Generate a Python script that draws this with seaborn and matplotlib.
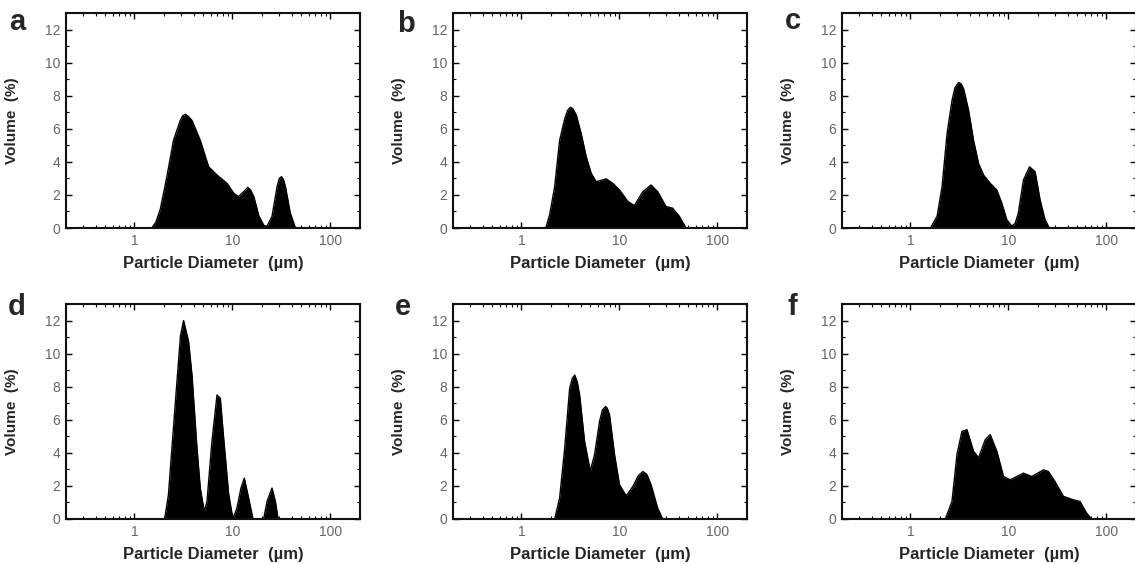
import matplotlib
matplotlib.use("Agg")
import matplotlib.pyplot as plt
import seaborn as sns
import pandas as pd
from matplotlib.ticker import MultipleLocator, LogLocator, NullFormatter

# particle size distributions (diameter in um, volume in %)
d_a = [1.50, 1.65, 1.83, 2.14, 2.50, 2.93, 3.10, 3.30, 3.55, 3.86, 4.69, 5.71, 6.95, 8.79, 10.3, 11.5, 13.0, 14.3, 15.3, 16.5, 18.6, 20.9, 22.5, 25.3, 28.5, 30.0, 31.6, 33.0, 34.7, 38.9, 43.9]
v_a = [0.00, 0.35, 1.12, 3.10, 5.30, 6.50, 6.78, 6.87, 6.75, 6.50, 5.30, 3.70, 3.20, 2.70, 2.10, 1.90, 2.20, 2.45, 2.30, 1.90, 0.72, 0.16, 0.10, 0.70, 2.50, 3.00, 3.10, 2.95, 2.50, 0.90, 0.00]

d_b = [1.77, 1.94, 2.18, 2.45, 2.76, 2.95, 3.15, 3.35, 3.62, 4.07, 4.58, 5.15, 5.79, 7.31, 8.55, 10.0, 12.2, 14.2, 17.3, 21.0, 24.5, 29.8, 34.8, 40.7, 47.6]
v_b = [0.00, 0.82, 2.50, 5.30, 6.60, 7.10, 7.30, 7.20, 6.83, 5.70, 4.30, 3.30, 2.80, 2.97, 2.70, 2.30, 1.60, 1.36, 2.20, 2.60, 2.20, 1.30, 1.20, 0.72, 0.00]

d_c = [1.60, 1.87, 2.10, 2.36, 2.65, 2.85, 3.10, 3.30, 3.49, 3.92, 4.40, 4.95, 5.57, 6.51, 7.60, 8.55, 9.60, 10.8, 11.7, 12.6, 14.2, 16.4, 18.7, 21.0, 23.6, 26.1]
v_c = [0.00, 0.72, 2.50, 5.70, 7.70, 8.50, 8.80, 8.70, 8.40, 7.10, 5.30, 3.90, 3.20, 2.70, 2.30, 1.50, 0.50, 0.12, 0.28, 0.90, 2.90, 3.70, 3.40, 1.70, 0.50, 0.00]

d_d = [2.03, 2.22, 2.41, 2.71, 2.95, 3.17, 3.57, 3.86, 4.34, 4.69, 5.15, 5.49, 6.17, 6.95, 7.51, 8.12, 9.14, 10.1, 11.1, 12.2, 13.2, 14.6, 16.2, 20.8, 22.5, 25.3, 27.4, 29.2]
v_d = [0.00, 1.47, 4.30, 8.30, 11.1, 12.0, 10.7, 8.70, 4.30, 1.87, 0.46, 1.06, 4.70, 7.50, 7.30, 4.90, 1.50, 0.00, 0.66, 1.87, 2.47, 1.27, 0.00, 0.00, 1.06, 1.87, 1.06, 0.00]

d_e = [2.18, 2.45, 2.76, 3.10, 3.30, 3.49, 3.70, 3.92, 4.40, 5.03, 5.57, 6.26, 6.70, 7.20, 7.50, 7.91, 8.90, 10.0, 11.7, 13.7, 15.5, 17.3, 19.0, 21.0, 24.5, 27.6]
v_e = [0.00, 1.27, 4.30, 7.90, 8.50, 8.70, 8.30, 7.50, 4.70, 2.90, 3.90, 5.90, 6.60, 6.80, 6.70, 6.30, 3.90, 2.07, 1.40, 1.97, 2.60, 2.87, 2.70, 2.07, 0.66, 0.00]

d_f = [2.27, 2.65, 2.98, 3.35, 3.77, 4.40, 4.95, 5.79, 6.51, 7.60, 8.90, 10.4, 14.2, 17.3, 22.7, 25.5, 29.8, 36.3, 45.8, 53.6, 62.6, 70.3]
v_f = [0.00, 1.06, 3.90, 5.30, 5.40, 4.10, 3.70, 4.80, 5.10, 4.10, 2.57, 2.37, 2.77, 2.57, 2.97, 2.87, 2.27, 1.37, 1.16, 1.06, 0.36, 0.00]

panels = ["a", "b", "c", "d", "e", "f"]
diams = [d_a, d_b, d_c, d_d, d_e, d_f]
vols = [v_a, v_b, v_c, v_d, v_e, v_f]

sns.set_style("ticks")
plt.rcParams["font.family"] = ["Liberation Sans", "DejaVu Sans"]

fig = plt.figure(figsize=(11.35, 5.64), dpi=100)
W, H = 1135.0, 564.0
lefts = [66, 453, 842]
tops = [13, 304]
letter_pos = [(9, 30), (397, 32), (785, 29), (8, 315), (395, 315), (788, 315)]

for i, name in enumerate(panels):
    row, col = divmod(i, 3)
    ax = fig.add_axes([lefts[col] / W, 1 - (tops[row] + 215) / H, 294 / W, 215 / H])
    df = pd.DataFrame({"diameter": diams[i], "volume": vols[i]})
    ax.fill_between(df["diameter"], df["volume"], 0, color="black", lw=0)
    sns.lineplot(data=df, x="diameter", y="volume", ax=ax, color="black", lw=1, sort=False)
    ax.set_xscale("log")
    ax.set_xlim(0.2, 200)
    ax.set_ylim(0, 13)
    ax.set_xticks([1, 10, 100], ["1", "10", "100"])
    ax.xaxis.set_minor_locator(LogLocator(base=10, subs=range(2, 10)))
    ax.xaxis.set_minor_formatter(NullFormatter())
    ax.yaxis.set_major_locator(MultipleLocator(2))
    ax.yaxis.set_minor_locator(MultipleLocator(1))
    ax.tick_params(which="both", direction="in", top=True, right=True, color="black")
    ax.tick_params(which="major", length=4, width=1, labelsize=10, labelcolor="#666666", pad=4)
    ax.tick_params(which="minor", length=2, width=0.8)
    for s in ax.spines.values():
        s.set_linewidth(1.5)
        s.set_color("#111111")
    ax.set_xlabel("Particle Diameter  (\u00b5m)", fontsize=12, fontweight="bold", labelpad=6)
    ax.set_ylabel("Volume  (%)", fontsize=11, fontweight="bold")
    ax.yaxis.set_label_coords(-0.16, 0.5)
    lx, ly = letter_pos[i]
    fig.text(lx / W, 1 - ly / H, name, fontsize=21, fontweight="bold", ha="left", va="baseline")

fig.savefig("out.png", dpi=100)
